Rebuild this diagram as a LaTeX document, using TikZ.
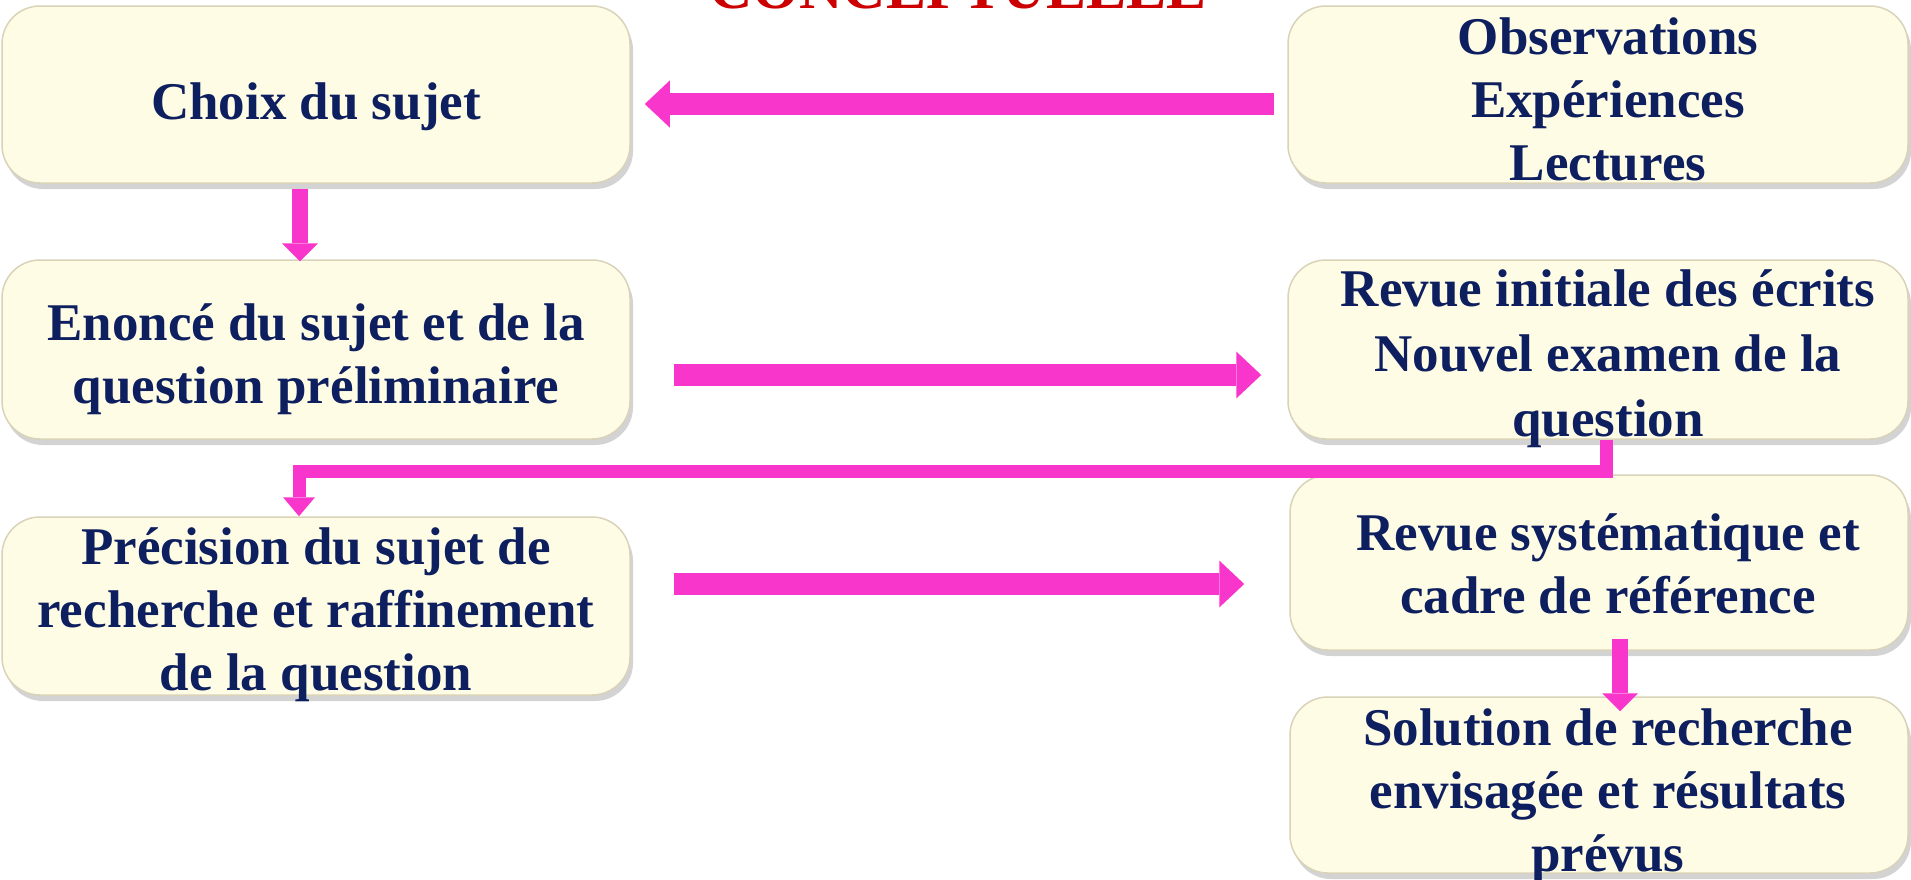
\documentclass[tikz,border=0pt]{standalone}
\usepackage{fontspec}
\setmainfont{Liberation Serif}
\usetikzlibrary{arrows.meta,shadows,calc}
\definecolor{cream}{HTML}{FFFCE6}
\definecolor{creamedge}{HTML}{D9D3B9}
\definecolor{navy}{HTML}{0D1F5E}
\definecolor{pinkarrow}{HTML}{F936CC}
\definecolor{titlered}{HTML}{CC0000}
\tikzset{
  box/.style={draw=creamedge, line width=1.5pt, fill=cream, rounded corners=38pt,
    drop shadow={shadow xshift=3pt,shadow yshift=-6pt,opacity=0.35},
    inner sep=0pt},
  boxtext/.style={inner sep=0pt, align=center, font=\fontsize{53}{63}\selectfont\bfseries, text=navy},
  barrow/.style={draw=pinkarrow, line width=22pt, -{Triangle[length=25pt,width=47pt,line width=0pt]}},
  varrow/.style={draw=pinkarrow, line width=16pt, -{Triangle[length=18pt,width=36pt,line width=0pt]}},
  elbow/.style={draw=pinkarrow, line width=13pt, line join=miter, -{Triangle[length=19pt,width=32pt,line width=0pt]}},
  titletext/.style={font=\fontsize{60}{60}\selectfont\bfseries, text=titlered, inner sep=0pt, anchor=base},
}
\begin{document}
\begin{tikzpicture}[x=1pt,y=-1pt]
\useasboundingbox (0,0) rectangle (1911,879);
\node[titletext] (title) at (958,8) {CONCEPTUELLE};

\node[box, minimum width=628pt, minimum height=177pt] (A) at (316,94.5) {};
\node[box, minimum width=620pt, minimum height=177pt] (B) at (1598,94.5) {};
\node[box, minimum width=628pt, minimum height=179pt] (C) at (316,349.5) {};
\node[box, minimum width=620pt, minimum height=179pt] (D) at (1598,349.5) {};
\node[box, minimum width=628pt, minimum height=178pt] (E) at (316,606) {};
\node[box, minimum width=618pt, minimum height=175pt] (F) at (1599,562.5) {};
\node[box, minimum width=618pt, minimum height=176pt] (G) at (1599,785) {};

\node[boxtext] (At) at (316,106.5) {Choix du sujet};
\node[boxtext] (Bt) at (1608,99.5) {Observations\\Expériences\\Lectures};
\node[boxtext] (Ct) at (316,359.5) {Enoncé du sujet et de la\\question préliminaire};
\node[boxtext, font=\fontsize{53}{65}\selectfont\bfseries] (Dt) at (1608,358.5) {Revue initiale des écrits\\Nouvel examen de la\\question};
\node[boxtext] (Et) at (316,614.5) {Précision du sujet de\\recherche et raffinement\\de la question};
\node[boxtext] (Ft) at (1608,563.5) {Revue systématique et\\cadre de référence};
\node[boxtext] (Gt) at (1608,796) {Solution de recherche\\envisagée et résultats\\prévus};

\draw[barrow, shorten <=13pt, shorten >=14pt] ([yshift=-9.5pt]B.west) -- ([yshift=-9.5pt]A.east);
\draw[barrow, shorten <=43pt, shorten >=26pt] ([yshift=-25.5pt]C.east) -- ([yshift=-25.5pt]D.west);
\draw[barrow, shorten <=43pt, shorten >=45pt] ([yshift=22pt]E.east) -- ([yshift=22pt]E.east -| F.west);
\draw[varrow, shorten <=5pt, shorten >=-2pt] ([xshift=-16pt]A.south) -- ([xshift=-16pt]A.south |- C.north);
\draw[varrow, shorten <=-12pt, shorten >=-15pt] ([xshift=21pt]F.south) -- ([xshift=21pt]F.south |- G.north);
\draw[elbow] ([xshift=8pt]D.south) -- ++(0,32) -| ([xshift=-17pt]E.north);
\end{tikzpicture}
\end{document}
